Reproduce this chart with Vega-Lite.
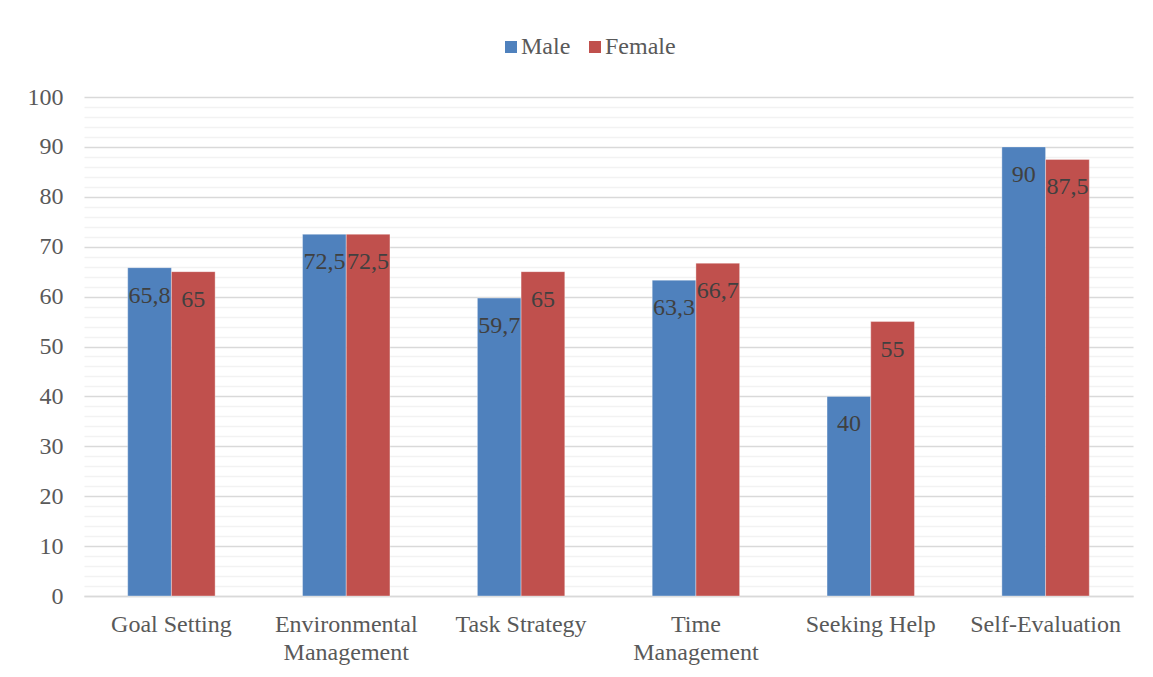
{
  "$schema": "https://vega.github.io/schema/vega-lite/v6.json",
  "width": 1049,
  "height": 499,
  "autosize": {"type": "none"},
  "padding": {"left": 84, "top": 97, "right": 20, "bottom": 81},
  "background": "white",
  "config": {
    "font": "Liberation Serif",
    "view": {"stroke": null},
    "locale": {"number": {"decimal": ",", "thousands": ".", "grouping": [3], "currency": ["", ""]}}
  },
  "data": {
    "values": [
      {"category": "Goal Setting", "gender": "Male", "value": 65.8},
      {"category": "Goal Setting", "gender": "Female", "value": 65},
      {"category": "Environmental Management", "gender": "Male", "value": 72.5},
      {"category": "Environmental Management", "gender": "Female", "value": 72.5},
      {"category": "Task Strategy", "gender": "Male", "value": 59.7},
      {"category": "Task Strategy", "gender": "Female", "value": 65},
      {"category": "Time Management", "gender": "Male", "value": 63.3},
      {"category": "Time Management", "gender": "Female", "value": 66.7},
      {"category": "Seeking Help", "gender": "Male", "value": 40},
      {"category": "Seeking Help", "gender": "Female", "value": 55},
      {"category": "Self-Evaluation", "gender": "Male", "value": 90},
      {"category": "Self-Evaluation", "gender": "Female", "value": 87.5}
    ]
  },
  "encoding": {
    "x": {
      "field": "category",
      "type": "nominal",
      "sort": null,
      "scale": {"paddingInner": 0.5, "paddingOuter": 0.25},
      "axis": {
        "title": null,
        "labelAngle": 0,
        "labelFont": "Liberation Serif",
        "labelFontSize": 24,
        "labelColor": "#595959",
        "labelPadding": 16,
        "labelLineHeight": 28,
        "labelBaseline": "top",
        "labelExpr": "indexof(['Environmental Management','Time Management'], datum.label) >= 0 ? split(datum.label, ' ') : datum.label",
        "ticks": false,
        "domainColor": "#d9d9d9",
        "domainWidth": 1.5,
        "grid": false
      }
    },
    "xOffset": {"field": "gender", "type": "nominal", "sort": ["Male", "Female"], "scale": {"paddingInner": 0, "paddingOuter": 0}},
    "y": {
      "field": "value",
      "type": "quantitative",
      "scale": {"domain": [0, 100], "nice": false},
      "axis": {
        "title": null,
        "values": [0,2,4,6,8,10,12,14,16,18,20,22,24,26,28,30,32,34,36,38,40,42,44,46,48,50,52,54,56,58,60,62,64,66,68,70,72,74,76,78,80,82,84,86,88,90,92,94,96,98,100],
        "labelExpr": "datum.value % 10 == 0 ? datum.label : ''",
        "labelFont": "Liberation Serif",
        "labelFontSize": 24,
        "labelColor": "#595959",
        "labelPadding": 21,
        "ticks": false,
        "domain": false,
        "grid": true,
        "gridColor": {"condition": {"test": "datum.value % 10 == 0", "value": "#d9d9d9"}, "value": "#f2f2f2"},
        "gridWidth": 1.5
      }
    }
  },
  "layer": [
    {
      "mark": {"type": "bar", "stroke": "white", "strokeWidth": 0.6, "strokeOpacity": 0.6},
      "encoding": {
        "color": {
          "field": "gender",
          "type": "nominal",
          "sort": ["Male", "Female"],
          "scale": {"domain": ["Male", "Female"], "range": ["#4f81bd", "#c0504d"]},
          "legend": {
            "title": null,
            "orient": "none",
            "direction": "horizontal",
            "legendX": 415,
            "legendY": -62,
            "symbolType": "square",
            "symbolSize": 144,
            "symbolStrokeWidth": 0,
            "labelFont": "Liberation Serif",
            "labelFontSize": 24,
            "labelColor": "#595959",
            "labelOffset": -2,
            "columnPadding": 12
          }
        }
      }
    },
    {
      "mark": {"type": "text", "baseline": "alphabetic", "dy": 35, "font": "Liberation Serif", "fontSize": 24, "color": "#404040"},
      "encoding": {
        "text": {"field": "value", "type": "quantitative", "format": ".1~f"}
      }
    }
  ]
}
